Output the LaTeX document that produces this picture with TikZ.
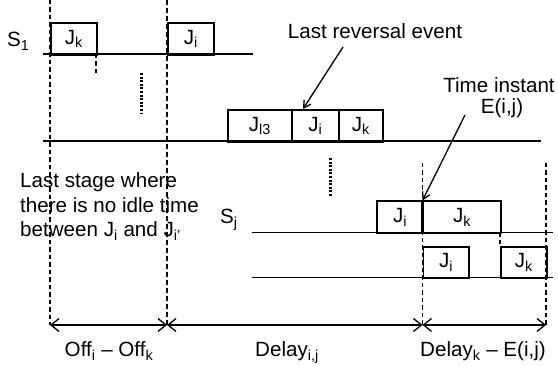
\documentclass[tikz,border=0pt]{standalone}
\usepackage{fontspec}
\setmainfont{Liberation Sans}
\usetikzlibrary{arrows.meta}
\begin{document}
\begin{tikzpicture}[x=1pt,y=-1pt,
  every node/.style={font=\fontsize{20.6}{24}\selectfont, inner sep=0pt},
  jbox/.style={draw, line width=1.6pt, minimum height=32pt, anchor=north west},
  track/.style={line width=1.6pt},
  thindash/.style={line width=1.3pt, dash pattern=on 4.5pt off 3pt},
  thickdash/.style={line width=2.2pt, dash pattern=on 5pt off 3pt},
  dotline/.style={line width=3pt, dash pattern=on 2pt off 1.6pt},
  pointer/.style={line width=1.3pt, -{Straight Barb[length=7pt,width=8pt]}},
  span/.style={line width=1.3pt, {Straight Barb[length=8pt,width=13pt]}-{Straight Barb[length=8pt,width=13pt]}},
  lbl/.style={anchor=base}
]
\useasboundingbox (0,0) rectangle (558,366);
\fill[white] (0,0) rectangle (558,366);

% time references
\coordinate (a1) at (50,0);   \coordinate (a2) at (50,325);
\coordinate (b1) at (167,0);  \coordinate (b2) at (167,325);
\coordinate (c1) at (422.5,163); \coordinate (c2) at (422.5,325);
\coordinate (e1) at (546,163); \coordinate (e2) at (546,325);

% stage S1
\node[lbl, anchor=base west] (s1) at (7,47) {S\textsubscript{1}};
\coordinate (s1l) at (43,54); \coordinate (s1r) at (253,54);
\draw[track] (s1l) -- (s1r);
\node[jbox, minimum width=46pt] (s1k) at (50,22) {J\textsubscript{k}};
\node[jbox, minimum width=46pt] (s1i) at (167,22) {J\textsubscript{i}};
\coordinate (k1) at (96,54); \coordinate (k2) at (96,75);
\draw[thindash] (k1) -- (k2);

% intermediate stages
\coordinate (v1) at (141,73); \coordinate (v2) at (141,113);
\draw[dotline] (v1) -- (v2);

% stage with the last reversal
\coordinate (m1) at (43,141); \coordinate (m2) at (541,141);
\draw[track] (m1) -- (m2);
\node[jbox, minimum width=64pt] (ml) at (227,109) {J\textsubscript{l3}};
\node[jbox, minimum width=47pt] (mi) at (291,109) {J\textsubscript{i}};
\node[jbox, minimum width=44pt] (mk) at (338,109) {J\textsubscript{k}};

\coordinate (v3) at (330,158); \coordinate (v4) at (330,197);
\draw[dotline] (v3) -- (v4);

% stage Sj and the following one
\node[lbl, anchor=base west] (sj) at (220,224) {S\textsubscript{j}};
\coordinate (j1) at (252,232.5); \coordinate (j2) at (553,232.5);
\draw[track] (j1) -- (j2);
\node[jbox, minimum width=46.5pt] (ji) at (376,200.5) {J\textsubscript{i}};
\node[jbox, minimum width=77.5pt] (jk) at (422.5,200.5) {J\textsubscript{k}};
\coordinate (n1) at (252,277.5); \coordinate (n2) at (553,277.5);
\draw[track] (n1) -- (n2);
\node[jbox, minimum width=45.5pt, minimum height=31.5pt] (ni) at (422.5,246) {J\textsubscript{i}};
\node[jbox, minimum width=46pt, minimum height=31.5pt] (nk) at (500,246) {J\textsubscript{k}};
\coordinate (q1) at (500,232.5); \coordinate (q2) at (500,246);
\draw[thindash] (q1) -- (q2);
\draw[line width=2.4pt] (jk.north west) -- (jk.south west);

% vertical time references
\draw[thindash] (a1) -- (a2);
\draw[thickdash] (b1) -- (b2);
\draw[thindash] (c1) -- (c2);
\draw[thindash] (e1) -- (e2);

% annotations
\node[lbl] (rev) at (375,39) {Last reversal event};
\coordinate (rs) at (343,47);
\draw[pointer] (rs) -- (mi.north -| 303,0);
\node[lbl] (ti) at (499,93) {Time instant};
\node[lbl] (eij) at (502,114) {E(i,j)};
\coordinate (ts) at (465,115);
\draw[pointer] (ts) -- (jk.north west);

\node[anchor=base west] (t1) at (20,188) {Last stage where};
\node[anchor=base west] (t2) at (20,212.5) {there is no idle time};
\node[anchor=base west] (t3) at (20,237) {between J\textsubscript{i} and J\textsubscript{i'}};

% spans
\draw[span] (a2) -- (b2);
\draw[span] (b2) -- (c2);
\draw[span] (c2) -- (e2);
\node[lbl] (o1) at (109,357) {Off\textsubscript{i} – Off\textsubscript{k}};
\node[lbl] (o2) at (287,357) {Delay\textsubscript{i,j}};
\node[lbl] (o3) at (483,357) {Delay\textsubscript{k} – E(i,j)};
\end{tikzpicture}
\end{document}
